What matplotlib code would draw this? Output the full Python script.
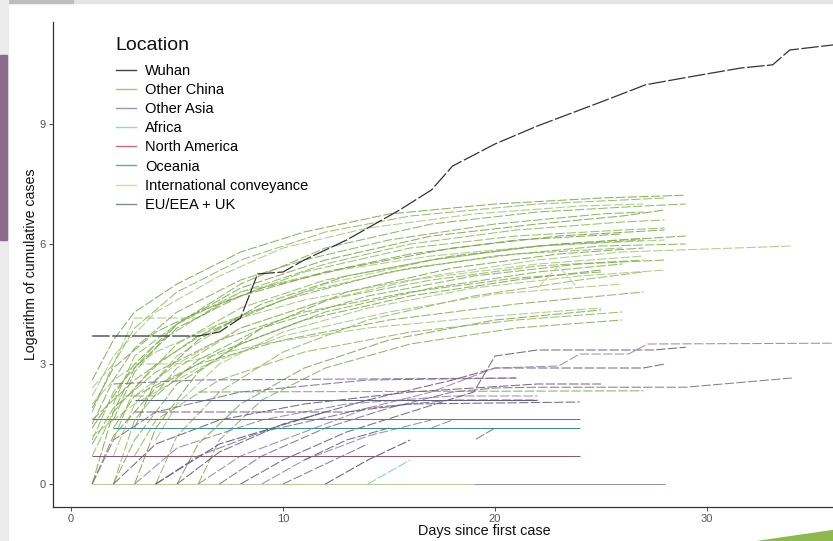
import matplotlib.pyplot as plt
import matplotlib.patches as mpatches
from matplotlib.lines import Line2D

plt.rcParams['font.family'] = ['Liberation Sans', 'DejaVu Sans']

# --- data: (day since first case, log cumulative cases) ---
wuhan_days = [1, 6, 7, 8, 8.8, 10, 11, 13, 15.5, 17, 18, 20, 22, 25, 27.1, 29.2, 31.6, 33.1, 33.9, 36, 39]
wuhan_cases = [3.7, 3.7, 3.8, 4.15, 5.25, 5.3, 5.6, 6.1, 6.85, 7.35, 7.95, 8.5, 8.95, 9.55, 9.98, 10.18, 10.4, 10.48, 10.85, 10.98, 11.1]

china_lines = [
    [(1, 2.6), (2, 3.6), (3, 4.3), (5, 5.0), (8, 5.8), (11, 6.3), (15, 6.75), (20, 7.0), (25, 7.15), (29, 7.22)],
    [(1, 1.8), (2, 3.0), (3, 3.9), (5, 4.8), (8, 5.6), (12, 6.3), (16, 6.7), (22, 7.0), (28, 7.15)],
    [(1, 2.2), (2, 3.2), (4, 4.3), (7, 5.2), (10, 5.9), (14, 6.4), (19, 6.75), (24, 6.95), (27, 7.0)],
    [(2, 1.6), (3, 2.8), (5, 4.0), (8, 5.0), (12, 5.9), (17, 6.5), (22, 6.8), (27, 6.95), (29, 7.0)],
    [(1, 1.4), (3, 3.0), (5, 4.0), (8, 4.9), (12, 5.6), (17, 6.2), (22, 6.5), (26, 6.7), (28, 6.85)],
    [(1, 1.1), (2, 2.3), (4, 3.5), (7, 4.5), (11, 5.3), (16, 5.9), (21, 6.2), (26, 6.35), (28, 6.4)],
    [(2, 0.7), (3, 2.0), (5, 3.2), (8, 4.2), (12, 5.0), (17, 5.6), (22, 5.95), (27, 6.15)],
    [(1, 1.6), (3, 2.6), (6, 3.7), (10, 4.6), (15, 5.3), (20, 5.7), (25, 5.95), (29, 6.0)],
    [(3, 0.0), (4, 1.4), (6, 2.8), (9, 3.9), (13, 4.8), (18, 5.4), (23, 5.75), (27, 5.9)],
    [(1, 0.7), (2, 1.8), (4, 3.0), (7, 4.0), (11, 4.8), (16, 5.4), (21, 5.75), (26, 5.9)],
    [(1, 2.0), (2, 2.6), (4, 3.3), (7, 4.0), (11, 4.6), (16, 5.1), (22, 5.5), (27, 5.7)],
    [(2, 0.0), (3, 1.1), (5, 2.5), (8, 3.5), (12, 4.3), (17, 4.9), (22, 5.3), (26, 5.5)],
    [(1, 0.0), (2, 1.2), (4, 2.4), (7, 3.3), (11, 4.1), (16, 4.7), (21, 5.1), (25, 5.35)],
    [(4, 0.0), (5, 1.2), (7, 2.3), (10, 3.3), (14, 4.1), (19, 4.7), (24, 5.1), (27, 5.3)],
    [(1, 1.2), (3, 2.0), (6, 2.9), (10, 3.7), (15, 4.3), (20, 4.75), (26, 5.0)],
    [(2, 1.4), (3, 2.2), (6, 3.0), (10, 3.6), (15, 4.1), (21, 4.5), (27, 4.8)],
    [(5, 0.0), (6, 1.0), (8, 2.0), (11, 2.9), (15, 3.6), (20, 4.1), (25, 4.35)],
    [(3, 0.7), (4, 1.6), (7, 2.6), (11, 3.3), (16, 3.8), (21, 4.1), (26, 4.3)],
    [(2, 2.2), (3, 2.2), (5, 3.0), (9, 3.5), (14, 3.9), (20, 4.2), (25, 4.4)],
    [(6, 0.0), (7, 1.1), (9, 2.1), (12, 2.9), (16, 3.5), (21, 3.9), (26, 4.1)],
    [(1, 1.9), (2, 2.9), (4, 3.8), (6, 4.3), (9, 4.9), (13, 5.4), (18, 5.9), (23, 6.2), (28, 6.35)],
    [(2, 2.0), (3, 3.2), (5, 4.0), (8, 4.8), (12, 5.5), (16, 6.0), (21, 6.35), (26, 6.55), (28, 6.6)],
    [(1, 2.4), (2, 3.0), (3, 4.15), (6, 4.15), (8, 4.8), (12, 5.3), (17, 5.7), (22, 5.95), (28, 6.1)],
    [(1, 1.5), (2, 2.6), (3, 3.4), (5, 4.3), (8, 5.1), (11, 5.6), (15, 6.1), (20, 6.5), (25, 6.75), (27, 6.8)],
    [(3, 1.4), (4, 2.6), (6, 3.6), (9, 4.5), (13, 5.2), (18, 5.7), (23, 6.0), (29, 6.2)],
    [(2, 0.0), (3, 1.6), (5, 2.9), (8, 3.9), (12, 4.6), (17, 5.1), (22, 5.45), (27, 5.6)],
    [(4, 1.1), (5, 2.0), (7, 3.0), (10, 3.8), (14, 4.4), (19, 4.9), (24, 5.2), (28, 5.35)],
    [(1, 1.0), (2, 1.9), (4, 2.8), (7, 3.6), (11, 4.3), (16, 4.8), (21, 5.15), (25, 5.3)],
    [(1, 0.0), (2, 1.8), (3, 2.9), (5, 3.9), (8, 4.7), (12, 5.3), (16, 5.75), (21, 6.1), (26, 6.25)],
    [(2, 1.1), (3, 2.4), (5, 3.5), (8, 4.4), (12, 5.1), (17, 5.6), (22, 5.95), (27, 6.1)],
    [(3, 3.0), (5, 3.0), (8, 3.9), (12, 4.6), (17, 5.2), (22, 5.6), (26, 5.8), (34, 5.95)],
    [(3, 2.2), (4, 2.2), (6, 3.1), (9, 3.9), (14, 4.7), (19, 5.2), (24, 5.5), (28, 5.6)],
    [(6, 2.3), (27, 2.33)],
]

china_zero_line = [(1, 0.0), (19, 0.0)]

asia_lines = [
    [(1, 0.0), (2, 1.1), (4, 1.8), (8, 2.3), (14, 2.6), (21, 2.65)],
    [(2, 0.0), (4, 1.0), (7, 1.6), (11, 2.0), (16, 2.3), (22, 2.5), (25, 2.5)],
    [(3, 0.0), (5, 0.9), (9, 1.6), (13, 2.0), (18, 2.2), (22, 2.2)],
    [(4, 0.0), (6, 0.7), (9, 1.3), (14, 1.9), (18, 2.1), (22, 2.1)],
    [(5, 0.0), (7, 0.8), (10, 1.5), (14, 2.1), (18, 2.6), (20, 2.9), (27, 2.9), (28, 3.0)],
    [(6, 0.0), (8, 0.7), (11, 1.3), (14, 1.9), (17, 2.3), (20, 2.9), (23, 2.95), (24, 3.25), (26.3, 3.25), (27.2, 3.5), (36, 3.52)],
    [(7, 0.0), (9, 0.7), (12, 1.4), (15, 1.9), (18, 2.3), (20, 2.4), (22, 2.42), (29, 2.42), (34, 2.65)],
    [(8, 0.0), (10, 0.6), (13, 1.3), (16, 1.8), (19, 2.3), (20, 3.2), (22, 3.35), (27.5, 3.35), (29, 3.42)],
    [(9, 0.0), (11, 0.6), (14, 1.2), (17, 1.6)],
    [(10, 0.0), (12, 0.5), (14, 1.0)],
    [(11, 0.6), (13, 1.1), (15, 1.4)],
    [(17, 1.4), (18, 1.6)],
    [(19.1, 1.12), (20, 1.4)],
    [(3, 1.8), (13, 1.8), (16, 2.0), (24, 2.05)],
    [(19, 0.0), (28, 0.0)],
    [(2, 2.5), (6, 2.6), (21, 2.65)],
]

oceania_lines = [
    [(2, 1.4), (24, 1.4)],
    [(1, 1.62), (24, 1.62)],
]

eu_lines = [
    [(3, 2.1), (22, 2.1)],
    [(4, 0.0), (7, 1.0), (12, 1.8)],
    [(12, 0.0), (14, 0.6), (16, 1.1)],
]

america_lines = [
    [(1, 0.7), (24, 0.7)],
]

africa_lines = [
    [(14, 0.0), (16, 0.6)],
]

conveyance_line = [(22.0, 4.9), (23.0, 5.45), (23.9, 4.9)]

legend_labels = ['Wuhan', 'Other China', 'Other Asia', 'Africa', 'North America',
                 'Oceania', 'International conveyance', 'EU/EEA + UK']

# colours
c_wuhan = '#333333'
c_china = ['#76a342', '#8cb556', '#a2c474', '#7fab4b']
c_asia = ['#7e6d92', '#6a5a7c', '#9284a6']
c_africa = '#8fd0c0'
c_america = '#8a5a6a'
c_oceania = '#3f8c8c'
c_conv = '#c9cf8a'
c_eu = '#5b6380'
legend_colors = ['#444444', '#a3c76a', '#a48fb6', '#9dd6c6', '#d06a78', '#58adad', '#e3df7e', '#7d88a3']

W, H = 833, 541
fig = plt.figure(figsize=(W / 100, H / 100), dpi=100)

# slide decorations
fig.patches.append(mpatches.Rectangle((0, 1 - 3 / H), 1, 3 / H, transform=fig.transFigure, color='#e4e4e4', zorder=-5))
fig.patches.append(mpatches.Rectangle((0, 1 - 3 / H), 73 / W, 3 / H, transform=fig.transFigure, color='#bdbdbd', zorder=-5))
fig.patches.append(mpatches.Rectangle((0, 0), 8 / W, 1, transform=fig.transFigure, color='#ececec', zorder=-5))
fig.patches.append(mpatches.Rectangle((0, 1 - 240 / H), 7 / W, 185 / H, transform=fig.transFigure, color='#8b6c8b', zorder=-4))
fig.patches.append(mpatches.Polygon([(757 / W, 0), (1, 0), (1, 11 / H)], closed=True, transform=fig.transFigure, color='#8cb84c', zorder=-4))

ax = fig.add_axes([53 / W, 34 / H, (915 - 53) / W, (519 - 34) / H])
ax.set_xlim((53 - 71) / 21.2, (915 - 71) / 21.2)
ax.set_ylim((484 - 507) / 40, (484 - 22) / 40)

dash = (0, (9, 2.2))
lw = 0.75


def draw(points, color, alpha=1.0):
    xs = [p[0] for p in points]
    ys = [p[1] for p in points]
    style = '-' if len(points) == 2 and ys[0] == ys[1] else dash
    ax.plot(xs, ys, color=color, lw=lw, ls=style, alpha=alpha, solid_capstyle='butt')


draw(china_zero_line, '#b9cc9f')
for i, pts in enumerate(china_lines):
    draw(pts, c_china[i % len(c_china)], 0.85)
for i, pts in enumerate(asia_lines):
    draw(pts, c_asia[i % len(c_asia)], 0.9)
for pts in oceania_lines:
    draw(pts, c_oceania)
for pts in eu_lines:
    draw(pts, c_eu)
for pts in america_lines:
    draw(pts, c_america)
for pts in africa_lines:
    draw(pts, c_africa)
draw(conveyance_line, c_conv)
ax.plot(wuhan_days, wuhan_cases, color=c_wuhan, lw=0.9, ls=(0, (14, 2)))

for side in ['top', 'right']:
    ax.spines[side].set_visible(False)
for side in ['left', 'bottom']:
    ax.spines[side].set_color('#333333')
    ax.spines[side].set_linewidth(0.9)

ax.set_xticks([0, 10, 20, 30])
ax.set_yticks([0, 3, 6, 9])
ax.tick_params(colors='#555555', labelsize=8, length=3, width=0.6, pad=2)
ax.tick_params(axis='both', color='#333333')
ax.set_xlabel('Days since first case', fontsize=10.4, color='#111111', labelpad=0)
ax.set_ylabel('Logarithm of cumulative cases', fontsize=10.2, color='#111111', labelpad=1.5)

# legend: title as separate text, entries below it
fig.text(115 / W, 1 - 46 / H, 'Location', fontsize=14, color='#111111', ha='left', va='center')
handles = [Line2D([], [], color=c, lw=1.0) for c in legend_colors]
leg = ax.legend(handles, legend_labels, loc='upper left',
                bbox_to_anchor=(116 / W, 1 - 64 / H), bbox_transform=fig.transFigure,
                frameon=False, fontsize=10.5,
                handlelength=1.4, handletextpad=0.6, labelspacing=0.35, borderpad=0,
                borderaxespad=0)

fig.savefig('out.png', dpi=100)
